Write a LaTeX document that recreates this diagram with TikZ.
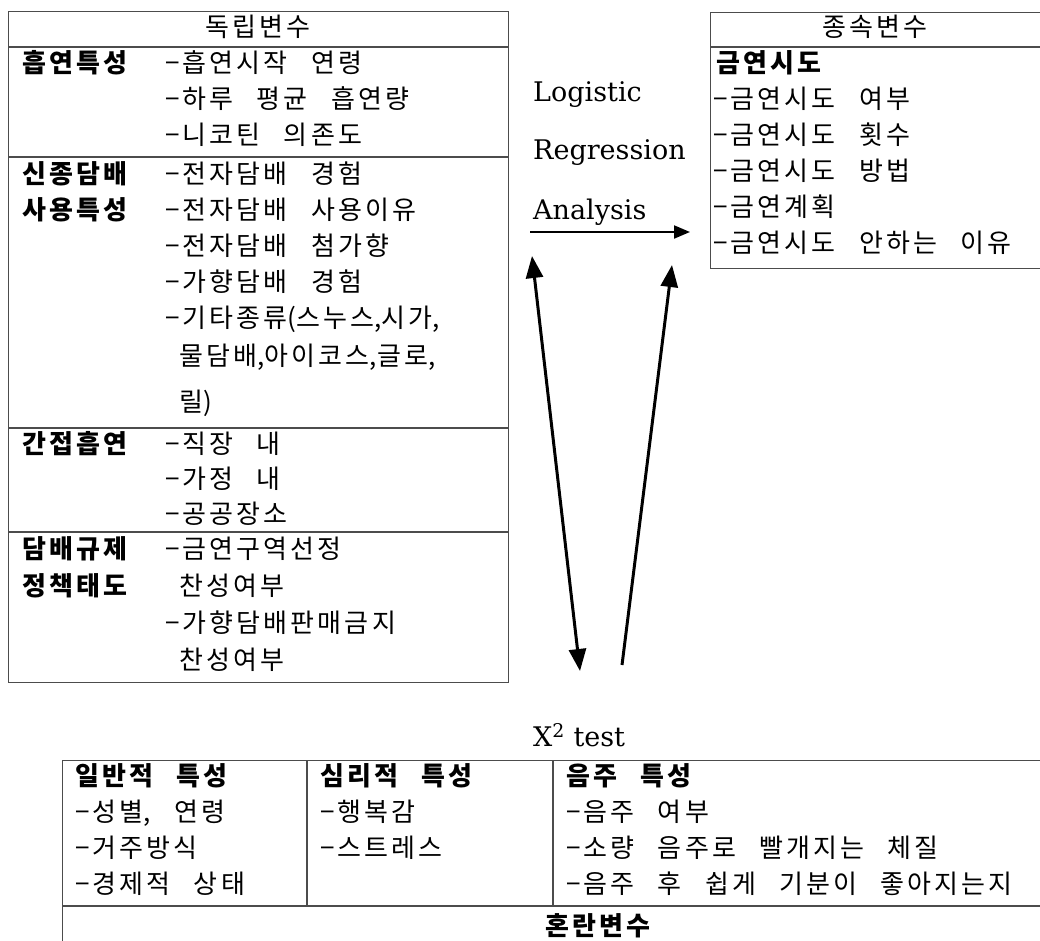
\documentclass[tikz,border=0pt]{standalone}
\usepackage{fontspec}
\setmainfont{DejaVu Serif}
\newfontfamily\kr{Noto Sans CJK KR}[LetterSpace=12,WordSpace=2.6]
\newfontfamily\krp{Noto Sans CJK KR}
\usetikzlibrary{arrows.meta}
\newcommand{\ind}{\hphantom{−}}
\newcommand{\pn}[1]{{\krp #1}}
\begin{document}
\begin{tikzpicture}[x=1pt,y=-1pt,
  kt/.style={font=\kr\fontsize{26}{26}\selectfont, anchor=west, inner sep=0pt, text height=19pt, text depth=5pt},
  kb/.style={kt, font=\kr\bfseries\fontsize{26}{26}\selectfont},
  kh/.style={kt, anchor=center},
  lt/.style={font=\fontsize{27}{27}\selectfont, anchor=west, inner sep=0pt},
  frame/.style={draw=black!70, line width=1.2pt},
  rule/.style={draw=black!70, line width=1.2pt},
  arr/.style={-{Triangle[length=16pt,width=13pt]}, line width=2pt},
  barr/.style={-{Triangle[length=22pt,width=17pt]}, line width=3pt},
  dbarr/.style={{Triangle[length=22pt,width=17pt]}-{Triangle[length=22pt,width=17pt]}, line width=3pt}]
\useasboundingbox (0,0) rectangle (1040,940);

% ---------- independent variables table ----------
\node[frame, anchor=north west, minimum width=500pt, minimum height=671pt, inner sep=0pt] (indep) at (8,11) {};
\draw[rule] (8,47) -- (508,47);
\draw[rule] (8,157) -- (508,157);
\draw[rule] (8,428) -- (508,428);
\draw[rule] (8,532) -- (508,532);
\node[kh] (ih) at (258,29) {독립변수};

\node[kb] (l1) at (22,65) {흡연특성};
\node[kt] (i11) at (165,65) {−흡연시작 연령};
\node[kt] (i12) at (165,101) {−하루 평균 흡연량};
\node[kt] (i13) at (165,137) {−니코틴 의존도};

\node[kb] (l2a) at (22,176) {신종담배};
\node[kb] (l2b) at (22,212) {사용특성};
\node[kt] (i21) at (165,176) {−전자담배 경험};
\node[kt] (i22) at (165,212) {−전자담배 사용이유};
\node[kt] (i23) at (165,248) {−전자담배 첨가향};
\node[kt] (i24) at (165,284) {−가향담배 경험};
\node[kt] (i25) at (165,320) {−기타종류\pn{(}스누스\pn{,}시가\pn{,}};
\node[kt] (i26) at (165,358) {\ind 물담배\pn{,}아이코스\pn{,}글로\pn{,}};
\node[kt] (i27) at (165,404) {\ind 릴\pn{)}};

\node[kb] (l3) at (22,446) {간접흡연};
\node[kt] (i31) at (165,446) {−직장 내};
\node[kt] (i32) at (165,481) {−가정 내};
\node[kt] (i33) at (165,516) {−공공장소};

\node[kb] (l4a) at (22,551) {담배규제};
\node[kb] (l4b) at (22,588) {정책태도};
\node[kt] (i41) at (165,551) {−금연구역선정};
\node[kt] (i42) at (165,588) {\ind 찬성여부};
\node[kt] (i43) at (165,625) {−가향담배판매금지};
\node[kt] (i44) at (165,662) {\ind 찬성여부};

% ---------- dependent variables table ----------
\node[frame, anchor=north west, minimum width=340pt, minimum height=256pt, inner sep=0pt] (dep) at (710,12) {};
\draw[rule] (710,47) -- (1050,47);
\node[kh] (dh) at (875,29) {종속변수};
\node[kb] (d0) at (716,65) {금연시도};
\node[kt] (d1) at (713,101) {−금연시도 여부};
\node[kt] (d2) at (713,137) {−금연시도 횟수};
\node[kt] (d3) at (713,173) {−금연시도 방법};
\node[kt] (d4) at (713,209) {−금연계획};
\node[kt] (d5) at (713,245) {−금연시도 안하는 이유};

% ---------- analysis labels ----------
\node[lt] (lg1) at (533,95) {Logistic};
\node[lt] (lg2) at (533,153) {Regression};
\node[lt] (lg3) at (533,212) {Analysis};
\node[lt] (chi) at (533,735) {X\textsuperscript{2} test};

% ---------- arrows ----------
\coordinate (h1) at (530,232);
\coordinate (h2) at (690,232);
\draw[arr] (h1) -- (h2);
\coordinate (a1) at (532,256);
\coordinate (a2) at (580,671);
\draw[dbarr] (a2) -- (a1);
\coordinate (b1) at (622,665);
\coordinate (b2) at (672,265);
\draw[barr] (b1) -- (b2);

% ---------- confounding variables table ----------
\node[frame, anchor=north west, minimum width=1000pt, minimum height=220pt, inner sep=0pt] (conf) at (62,760) {};
\draw[rule] (62,906) -- (1070,906);
\draw[rule] (307,760) -- (307,906);
\draw[rule] (553,760) -- (553,906);
\node[kb] (c1h) at (75,778) {일반적 특성};
\node[kt] (c11) at (75,814) {−성별\pn{,} 연령};
\node[kt] (c12) at (75,850) {−거주방식};
\node[kt] (c13) at (75,886) {−경제적 상태};
\node[kb] (c2h) at (320,778) {심리적 특성};
\node[kt] (c21) at (320,814) {−행복감};
\node[kt] (c22) at (320,850) {−스트레스};
\node[kb] (c3h) at (566,778) {음주 특성};
\node[kt] (c31) at (566,814) {−음주 여부};
\node[kt] (c32) at (566,850) {−소량 음주로 빨개지는 체질};
\node[kt] (c33) at (566,886) {−음주 후 쉽게 기분이 좋아지는지};
\node[kb, anchor=center] (ch) at (598,928) {혼란변수};
\end{tikzpicture}
\end{document}
